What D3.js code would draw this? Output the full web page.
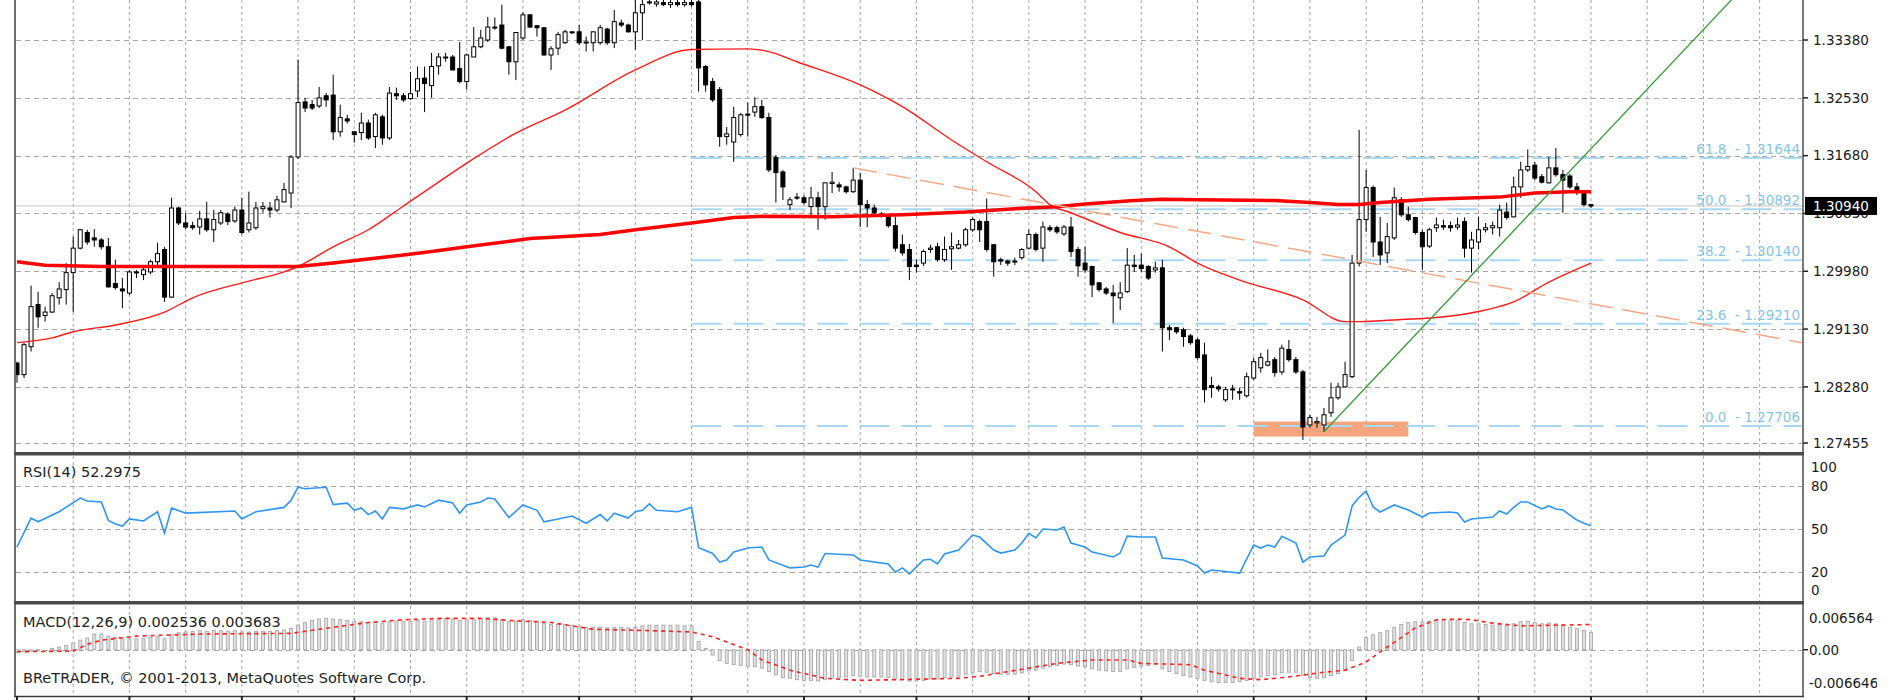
<!DOCTYPE html>
<html>
<head>
<meta charset="utf-8">
<style>
  html, body { margin: 0; padding: 0; background: #fff; }
  svg { display: block; font-family: "DejaVu Sans", sans-serif; }
</style>
<script src="https://cdn.jsdelivr.net/npm/d3@7"></script>
</head>
<body>
<svg id="chart" width="1900" height="700"></svg>
<script>
// daily candles, index 0..224
var opens = [1.2863,1.2846,1.2887,1.2949,1.2933,1.2938,1.2959,1.2971,1.2996,1.3032,
  1.3055,1.3047,1.3044,1.3034,1.2980,1.2972,1.2966,1.2997,1.2993,1.2997,
  1.3012,1.3030,1.2960,1.3091,1.3069,1.3065,1.3063,1.3075,1.3059,1.3069,
  1.3082,1.3072,1.3088,1.3059,1.3062,1.3090,1.3091,1.3088,1.3100,1.3113,
  1.3166,1.3247,1.3243,1.3241,1.3256,1.3257,1.3203,1.3222,1.3203,1.3202,
  1.3216,1.3196,1.3225,1.3194,1.3259,1.3256,1.3252,1.3263,1.3282,1.3271,
  1.3300,1.3313,1.3313,1.3296,1.3277,1.3313,1.3328,1.3338,1.3357,1.3360,
  1.3328,1.3306,1.3341,1.3375,1.3359,1.3356,1.3316,1.3326,1.3334,1.3350,
  1.3350,1.3335,1.3334,1.3334,1.3354,1.3334,1.3363,1.3360,1.3350,1.3378,
  1.3393,1.3391,1.3393,1.3390,1.3393,1.3390,1.3393,1.3394,1.3299,1.3277,
  1.3265,1.3196,1.3188,1.3199,1.3229,1.3232,1.3240,1.3224,1.3165,1.3144,
  1.3096,1.3107,1.3106,1.3093,1.3106,1.3093,1.3127,1.3125,1.3122,1.3115,
  1.3132,1.3096,1.3091,1.3082,1.3080,1.3065,1.3037,1.3030,1.3007,1.3010,
  1.3030,1.3034,1.3015,1.3031,1.3032,1.3037,1.3059,1.3071,1.3071,1.3037,
  1.3015,1.3013,1.3012,1.3018,1.3032,1.3052,1.3032,1.3062,1.3062,1.3053,
  1.3063,1.3030,1.3010,1.3005,1.2981,1.2972,1.2966,1.2959,1.2968,1.3007,
  1.3007,1.3005,1.3000,1.3003,1.2915,1.2915,1.2912,1.2903,1.2897,1.2875,
  1.2830,1.2828,1.2809,1.2825,1.2821,1.2815,1.2841,1.2856,1.2860,1.2868,
  1.2850,1.2883,1.2868,1.2850,1.2772,1.2775,1.2772,1.2790,1.2812,1.2828,
  1.2843,1.3010,1.3074,1.3121,1.3041,1.3025,1.3047,1.3103,1.3081,1.3077,
  1.3055,1.3035,1.3062,1.3065,1.3065,1.3063,1.3071,1.3032,1.3041,1.3059,
  1.3062,1.3062,1.3085,1.3078,1.3122,1.3147,1.3154,1.3137,1.3128,1.3150,
  1.3140,1.3138,1.3122,1.3112,1.3096]
var highs = [1.2865,1.2893,1.2977,1.2968,1.2946,1.2966,1.2982,1.3010,1.3049,1.3060,
  1.3059,1.3060,1.3047,1.3047,1.3015,1.2988,1.3000,1.3000,1.3005,1.3015,
  1.3040,1.3034,1.3106,1.3093,1.3084,1.3071,1.3087,1.3100,1.3088,1.3088,
  1.3085,1.3093,1.3106,1.3115,1.3100,1.3100,1.3100,1.3109,1.3128,1.3169,
  1.3309,1.3253,1.3250,1.3269,1.3260,1.3287,1.3243,1.3228,1.3204,1.3231,
  1.3221,1.3231,1.3228,1.3269,1.3268,1.3260,1.3291,1.3299,1.3299,1.3319,
  1.3319,1.3319,1.3316,1.3335,1.3318,1.3357,1.3353,1.3372,1.3371,1.3390,
  1.3329,1.3349,1.3379,1.3376,1.3360,1.3357,1.3329,1.3350,1.3353,1.3351,
  1.3360,1.3343,1.3351,1.3360,1.3356,1.3382,1.3368,1.3362,1.3397,1.3401,
  1.3400,1.3401,1.3400,1.3398,1.3397,1.3398,1.3397,1.3404,1.3301,1.3282,
  1.3269,1.3210,1.3240,1.3231,1.3246,1.3254,1.3250,1.3231,1.3169,1.3147,
  1.3107,1.3113,1.3110,1.3122,1.3115,1.3128,1.3144,1.3129,1.3124,1.3150,
  1.3143,1.3103,1.3096,1.3085,1.3081,1.3078,1.3052,1.3038,1.3015,1.3030,
  1.3037,1.3040,1.3049,1.3055,1.3044,1.3062,1.3077,1.3074,1.3105,1.3038,
  1.3018,1.3015,1.3018,1.3032,1.3059,1.3055,1.3071,1.3066,1.3065,1.3066,
  1.3078,1.3034,1.3034,1.3006,1.2982,1.2975,1.2978,1.2982,1.3032,1.3022,
  1.3024,1.3007,1.3012,1.3015,1.2919,1.2916,1.2915,1.2906,1.2900,1.2893,
  1.2843,1.2831,1.2828,1.2831,1.2827,1.2849,1.2871,1.2878,1.2883,1.2872,
  1.2890,1.2897,1.2872,1.2853,1.2787,1.2784,1.2797,1.2834,1.2834,1.2865,
  1.3022,1.3206,1.3147,1.3124,1.3078,1.3069,1.3121,1.3107,1.3093,1.3078,
  1.3059,1.3062,1.3077,1.3074,1.3071,1.3077,1.3077,1.3056,1.3078,1.3069,
  1.3071,1.3096,1.3099,1.3137,1.3159,1.3177,1.3159,1.3141,1.3166,1.3179,
  1.3147,1.3141,1.3128,1.3113,1.3097]
var lows = [1.2834,1.2841,1.2880,1.2915,1.2924,1.2937,1.2949,1.2949,1.2938,1.3030,
  1.3037,1.3034,1.3030,1.2974,1.2971,1.2944,1.2963,1.2988,1.2985,1.2994,
  1.3005,1.2953,1.2959,1.3066,1.3060,1.3059,1.3052,1.3056,1.3041,1.3066,
  1.3066,1.3069,1.3052,1.3055,1.3059,1.3084,1.3077,1.3085,1.3099,1.3091,
  1.3163,1.3232,1.3235,1.3238,1.3240,1.3191,1.3196,1.3215,1.3187,1.3191,
  1.3191,1.3179,1.3184,1.3191,1.3250,1.3247,1.3250,1.3254,1.3232,1.3253,
  1.3287,1.3306,1.3293,1.3274,1.3265,1.3313,1.3326,1.3335,1.3353,1.3324,
  1.3287,1.3279,1.3338,1.3356,1.3343,1.3315,1.3294,1.3316,1.3332,1.3347,
  1.3331,1.3321,1.3321,1.3331,1.3331,1.3326,1.3357,1.3349,1.3324,1.3338,
  1.3390,1.3387,1.3388,1.3385,1.3387,1.3387,1.3387,1.3262,1.3262,1.3247,
  1.3181,1.3184,1.3159,1.3196,1.3196,1.3225,1.3222,1.3144,1.3099,1.3103,
  1.3088,1.3103,1.3096,1.3078,1.3059,1.3074,1.3113,1.3115,1.3112,1.3113,
  1.3063,1.3063,1.3081,1.3077,1.3062,1.3027,1.3021,1.2985,1.2996,1.3006,
  1.3025,1.3012,1.3012,1.3000,1.3030,1.3034,1.3056,1.3041,1.3027,1.2990,
  1.3007,1.3006,1.3007,1.3015,1.3030,1.3027,1.3012,1.3056,1.3053,1.3050,
  1.3019,1.2990,1.2996,1.2960,1.2968,1.2963,1.2922,1.2941,1.2966,1.2997,
  1.2997,1.2985,1.2996,1.2880,1.2897,1.2906,1.2887,1.2890,1.2868,1.2805,
  1.2812,1.2821,1.2806,1.2809,1.2809,1.2812,1.2838,1.2849,1.2858,1.2843,
  1.2846,1.2865,1.2847,1.2750,1.2768,1.2768,1.2762,1.2784,1.2809,1.2827,
  1.2841,1.3005,1.3056,1.3019,1.3007,1.3010,1.3044,1.3078,1.3071,1.3052,
  1.3000,1.3032,1.3056,1.3059,1.3056,1.3059,1.3018,1.2996,1.3030,1.3055,
  1.3052,1.3049,1.3074,1.3077,1.3106,1.3144,1.3132,1.3127,1.3127,1.3137,
  1.3084,1.3119,1.3110,1.3093,1.3091]
var closes = [1.2846,1.2890,1.2946,1.2931,1.2938,1.2962,1.2972,1.2996,1.3032,1.3059,
  1.3041,1.3044,1.3034,1.2975,1.2974,1.2969,1.2997,1.2996,1.3000,1.3012,
  1.3024,1.2960,1.3091,1.3069,1.3063,1.3062,1.3075,1.3059,1.3074,1.3084,
  1.3071,1.3088,1.3055,1.3069,1.3091,1.3093,1.3088,1.3103,1.3118,1.3166,
  1.3246,1.3238,1.3238,1.3253,1.3250,1.3203,1.3224,1.3219,1.3199,1.3216,
  1.3194,1.3228,1.3194,1.3260,1.3256,1.3250,1.3259,1.3281,1.3274,1.3299,
  1.3313,1.3312,1.3294,1.3277,1.3316,1.3328,1.3341,1.3357,1.3356,1.3326,
  1.3306,1.3349,1.3375,1.3357,1.3356,1.3316,1.3325,1.3346,1.3350,1.3349,
  1.3334,1.3334,1.3350,1.3356,1.3334,1.3365,1.3360,1.3350,1.3378,1.3390,
  1.3394,1.3394,1.3390,1.3393,1.3390,1.3393,1.3390,1.3297,1.3272,1.3250,
  1.3196,1.3200,1.3224,1.3228,1.3228,1.3240,1.3224,1.3147,1.3143,1.3122,
  1.3103,1.3106,1.3099,1.3106,1.3093,1.3128,1.3129,1.3122,1.3115,1.3132,
  1.3096,1.3091,1.3084,1.3080,1.3065,1.3032,1.3025,1.3005,1.3005,1.3027,
  1.3032,1.3015,1.3030,1.3034,1.3037,1.3059,1.3074,1.3059,1.3030,1.3012,
  1.3013,1.3010,1.3013,1.3030,1.3052,1.3030,1.3063,1.3059,1.3056,1.3063,
  1.3027,1.3006,1.3000,1.2978,1.2971,1.2966,1.2962,1.2966,1.3007,1.3005,
  1.3002,1.2988,1.3003,1.2915,1.2912,1.2909,1.2902,1.2893,1.2871,1.2824,
  1.2827,1.2825,1.2824,1.2824,1.2819,1.2843,1.2865,1.2871,1.2865,1.2849,
  1.2885,1.2868,1.2850,1.2769,1.2783,1.2777,1.2787,1.2812,1.2828,1.2846,
  1.3010,1.3074,1.3121,1.3041,1.3022,1.3049,1.3106,1.3081,1.3074,1.3055,
  1.3034,1.3059,1.3066,1.3063,1.3062,1.3066,1.3032,1.3044,1.3059,1.3062,
  1.3065,1.3088,1.3077,1.3122,1.3147,1.3152,1.3135,1.3129,1.3150,1.3140,
  1.3132,1.3122,1.3115,1.3096,1.3094]

// moving averages (read at a few bars)
var maFastBars = [0,5,8,14,21,25,32,38,40,45,50,55,59,64,71,78,88,96,104,107,111,120,126,133,138,145,147,150,157,164,168,174,183,189,191,197,202,209,213,218,224]
var maFastValues = [1.2893,1.2900,1.2909,1.2919,1.2938,1.2959,1.2981,1.2997,1.3005,1.3034,1.3059,1.3094,1.3122,1.3157,1.3201,1.3235,1.3294,1.3324,1.3325,1.3321,1.3306,1.3272,1.3240,1.3191,1.3159,1.3115,1.3096,1.3084,1.3055,1.3034,1.3010,1.2985,1.2956,1.2924,1.2924,1.2927,1.2930,1.2941,1.2953,1.2982,1.3010]
var maSlowBars = [0,4,12,40,45,55,59,64,73,83,88,96,102,107,116,126,135,142,148,152,159,163,168,179,184,188,191,194,201,211,216,221,224]
var maSlowValues = [1.3012,1.3007,1.3005,1.3005,1.3010,1.3022,1.3027,1.3034,1.3046,1.3052,1.3059,1.3069,1.3077,1.3079,1.3078,1.3081,1.3085,1.3090,1.3093,1.3097,1.3102,1.3104,1.3103,1.3102,1.3099,1.3096,1.3096,1.3099,1.3104,1.3107,1.3113,1.3115,1.3115]

// RSI(14)
var rsiBars = [0,2,3,6,9,10,12,13,14,15,16,18,20,21,22,24,31,32,34,38,39,40,41,44,45,47,48,49,50,51,52,53,55,57,58,60,62,63,64,66,67,68,70,72,74,75,77,79,81,83,84,85,87,88,89,90,91,94,96,97,99,100,101,102,104,106,107,110,112,113,114,115,119,120,124,125,126,127,129,130,131,132,134,136,137,139,140,142,143,144,145,146,148,149,150,152,153,156,157,158,160,162,163,166,168,169,170,174,176,177,178,179,180,182,183,184,186,187,189,190,191,192,193,194,196,198,200,201,204,205,206,207,210,211,212,213,214,215,217,218,219,220,222,223,224]
var rsiValues = [37.5,57.6,55,62,71.5,69.4,68.8,56,53.5,52,57,55.6,62,47,64.6,61,62.5,57,62,65,70,79,78,79,67,68,63,64.6,60,62.5,57,65,64,66.7,65.3,70,68,61,66.7,68.8,71.5,70.8,58,66.7,63,55,57,59,54,60,55.6,61,57.6,62,63,67.4,63,62,65,37,33,27,28.5,34,36.8,37.5,28.5,23,23.6,25,23.6,33,32,28.5,25.7,20,23,18.8,28.5,29,25.7,32.6,35.4,45.8,44.4,35.4,33.3,35.4,40.3,47,43.8,50,49.3,51.4,40.3,37.5,34,30.6,33.3,45,44.4,44.4,29.9,28.5,24.3,19.4,21.5,19.4,38.9,36.8,38.9,37.5,45,40.3,27,30.6,31.3,38.9,45.8,66,72,76.4,65.3,61.8,66.7,63.2,58.3,61.1,61.8,61.1,54.9,56.9,58.3,62.5,60.4,65,68.8,68.8,63.9,66,63.9,63.2,56.2,54,52.3]

// MACD(12,26,9): main per bar, signal read at a few bars
var macdMain = [-0.0004,-0.0003,-0.0002,-0.0001,0.0000,0.0002,0.0004,0.0006,0.0010,0.0014,
  0.0017,0.0023,0.0023,0.0020,0.0018,0.0016,0.0016,0.0016,0.0017,0.0018,
  0.0019,0.0016,0.0022,0.0025,0.0026,0.0027,0.0028,0.0027,0.0028,0.0028,
  0.0027,0.0028,0.0026,0.0026,0.0027,0.0027,0.0027,0.0028,0.0029,0.0031,
  0.0036,0.0040,0.0043,0.0045,0.0046,0.0045,0.0044,0.0043,0.0041,0.0041,
  0.0040,0.0040,0.0039,0.0041,0.0042,0.0042,0.0042,0.0043,0.0042,0.0044,
  0.0045,0.0046,0.0045,0.0043,0.0044,0.0045,0.0046,0.0047,0.0047,0.0044,
  0.0041,0.0042,0.0044,0.0043,0.0042,0.0039,0.0037,0.0037,0.0037,0.0036,
  0.0034,0.0033,0.0033,0.0033,0.0032,0.0033,0.0033,0.0032,0.0033,0.0035,
  0.0036,0.0036,0.0036,0.0036,0.0036,0.0035,0.0035,0.0012,0.0002,-0.0008,
  -0.0016,-0.0020,-0.0022,-0.0023,-0.0024,-0.0025,-0.0027,-0.0032,-0.0037,-0.0041,
  -0.0042,-0.0044,-0.0045,-0.0045,-0.0046,-0.0044,-0.0042,-0.0041,-0.0040,-0.0038,
  -0.0039,-0.0040,-0.0040,-0.0040,-0.0041,-0.0043,-0.0044,-0.0046,-0.0046,-0.0045,
  -0.0043,-0.0043,-0.0041,-0.0040,-0.0039,-0.0036,-0.0033,-0.0032,-0.0033,-0.0035,
  -0.0036,-0.0036,-0.0036,-0.0034,-0.0031,-0.0030,-0.0027,-0.0025,-0.0023,-0.0021,
  -0.0022,-0.0024,-0.0025,-0.0028,-0.0030,-0.0031,-0.0032,-0.0032,-0.0028,-0.0026,
  -0.0024,-0.0023,-0.0022,-0.0028,-0.0032,-0.0035,-0.0038,-0.0040,-0.0042,-0.0045,
  -0.0047,-0.0048,-0.0048,-0.0048,-0.0047,-0.0045,-0.0042,-0.0040,-0.0038,-0.0037,
  -0.0034,-0.0033,-0.0033,-0.0038,-0.0041,-0.0042,-0.0041,-0.0038,-0.0035,-0.0031,
  -0.0016,0.0004,0.0018,0.0022,0.0025,0.0028,0.0033,0.0037,0.0040,0.0041,
  0.0041,0.0042,0.0043,0.0043,0.0043,0.0043,0.0040,0.0038,0.0038,0.0037,
  0.0036,0.0037,0.0036,0.0038,0.0041,0.0042,0.0040,0.0038,0.0039,0.0038,
  0.0036,0.0033,0.0031,0.0028,0.0025]
var signalBars = [0,8,10,12,17,26,39,43,50,55,60,66,70,76,82,90,96,99,104,106,110,115,120,125,134,137,144,148,153,158,160,167,169,174,177,181,186,189,192,195,199,202,205,207,210,214,224]
var signalValues = [-0.0003,-0.0002,0.0008,0.0014,0.0020,0.0023,0.0024,0.0030,0.0040,0.0044,0.0046,0.0046,0.0043,0.0040,0.0030,0.0028,0.0026,0.0019,0.0000,-0.0015,-0.0030,-0.0042,-0.0045,-0.0044,-0.0042,-0.0039,-0.0027,-0.0020,-0.0015,-0.0015,-0.0020,-0.0022,-0.0030,-0.0042,-0.0044,-0.0040,-0.0033,-0.0030,-0.0018,0.0004,0.0032,0.0044,0.0045,0.0044,0.0039,0.0035,0.0037]

// axis ticks
var priceTicks = [1.3338, 1.3253, 1.3168, 1.3083, 1.2998, 1.2913, 1.2828, 1.27455]
var rsiTicks = [100, 80, 50, 20, 0]
var rsiGrid = [80, 50, 20]
var macdTicks = [0.006564, 0, -0.006646]
var macdTickLabels = ['0.006564', '0.00', '-0.006646']

// drawn objects
var fibLevels = [61.8, 50.0, 38.2, 23.6, 0.0]
var fibPrices = [1.31644, 1.30892, 1.30140, 1.29210, 1.27706]
var fibStartBar = 96
var lastPrice = 1.3094
var redTrend = [[119, 1.3150], [254, 1.2893]]
var greenTrend = [[186, 1.2762], [244, 1.3397]]
var boxBars = [176, 198]
var boxPrices = [1.2755, 1.2777]

var svg = d3.select('#chart')
var left = 16, axisX = 1803

var x = d3.scaleLinear().domain([0, 224]).range([17, 1591])
var y = d3.scaleLinear().domain([1.27455, 1.3338]).range([443, 40])
var yRsi = d3.scaleLinear().domain([0, 100]).range([601, 457])
var yMacd = d3.scaleLinear().domain([-0.006646, 0.006564]).range([695, 605])

var defs = svg.append('defs')
function clip(id, top, bottom) {
    defs.append('clipPath').attr('id', id).append('rect')
        .attr('x', left).attr('y', top).attr('width', axisX - left - 1).attr('height', bottom - top)
}
clip('clipMain', 0, 452)
clip('clipRsi', 456, 601)
clip('clipMacd', 605, 696)
defs.append('clipPath').attr('id', 'clipAxis').append('rect')
    .attr('x', axisX).attr('y', 0).attr('width', 74).attr('height', 700)

var gridColor = '#a6a6a6'

// vertical grid through all panels
svg.append('g').selectAll('line')
    .data(d3.range(8, 249, 8))
    .enter().append('line')
    .attr('x1', d => x(d)).attr('x2', d => x(d))
    .attr('y1', 0).attr('y2', 696)
    .attr('stroke', gridColor).attr('stroke-dasharray', '3,3')

svg.append('g').selectAll('line')
    .data(priceTicks)
    .enter().append('line')
    .attr('x1', left).attr('x2', axisX)
    .attr('y1', d => Math.round(y(d)) + 0.5).attr('y2', d => Math.round(y(d)) + 0.5)
    .attr('stroke', gridColor).attr('stroke-dasharray', '5,4')

svg.append('g').selectAll('line')
    .data(rsiGrid)
    .enter().append('line')
    .attr('x1', left).attr('x2', axisX)
    .attr('y1', d => Math.round(yRsi(d)) + 0.5).attr('y2', d => Math.round(yRsi(d)) + 0.5)
    .attr('stroke', gridColor).attr('stroke-dasharray', '5,4')

svg.append('line')
    .attr('x1', left).attr('x2', axisX)
    .attr('y1', Math.round(yMacd(0)) + 0.5).attr('y2', Math.round(yMacd(0)) + 0.5)
    .attr('stroke', gridColor).attr('stroke-dasharray', '5,4')

// ---- main panel
var main = svg.append('g').attr('clip-path', 'url(#clipMain)')

main.append('rect')
    .attr('x', x(boxBars[0])).attr('width', x(boxBars[1]) - x(boxBars[0]))
    .attr('y', y(boxPrices[1])).attr('height', y(boxPrices[0]) - y(boxPrices[1]))
    .attr('fill', '#f5a47e')

main.append('g').selectAll('line')
    .data(fibPrices)
    .enter().append('line')
    .attr('x1', x(fibStartBar)).attr('x2', axisX)
    .attr('y1', d => y(d)).attr('y2', d => y(d))
    .attr('stroke', '#a9d8f2').attr('stroke-width', 2)
    .attr('stroke-dasharray', '30,12')

main.append('line')
    .attr('x1', left).attr('x2', axisX)
    .attr('y1', y(lastPrice)).attr('y2', y(lastPrice))
    .attr('stroke', '#c4c4c4').attr('stroke-width', 1)

var candles = main.append('g').selectAll('g')
    .data(d3.range(closes.length))
    .enter().append('g')

candles.append('line')
    .attr('x1', i => x(i)).attr('x2', i => x(i))
    .attr('y1', i => y(highs[i])).attr('y2', i => y(lows[i]))
    .attr('stroke', '#000').attr('stroke-width', 1)

candles.append('rect')
    .attr('x', i => x(i) - 2)
    .attr('width', 4)
    .attr('y', i => y(Math.max(opens[i], closes[i])))
    .attr('height', i => Math.max(1, Math.abs(y(opens[i]) - y(closes[i]))))
    .attr('fill', i => closes[i] >= opens[i] ? '#fff' : '#000')
    .attr('stroke', '#000').attr('stroke-width', 1)

var line = d3.line().x(d => x(d[0])).y(d => y(d[1]))

main.append('path')
    .attr('d', line.curve(d3.curveMonotoneX)(d3.zip(maFastBars, maFastValues)))
    .attr('fill', 'none').attr('stroke', '#ff1a1a').attr('stroke-width', 1.4)

main.append('path')
    .attr('d', line.curve(d3.curveLinear)(d3.zip(maSlowBars, maSlowValues)))
    .attr('fill', 'none').attr('stroke', '#ff0000').attr('stroke-width', 3.5)

main.append('path')
    .attr('d', line(redTrend))
    .attr('fill', 'none').attr('stroke', '#f8a886').attr('stroke-width', 1.5)
    .attr('stroke-dasharray', '24,10')

main.append('path')
    .attr('d', line(greenTrend))
    .attr('fill', 'none').attr('stroke', '#3d9e3d').attr('stroke-width', 1.4)

main.append('g').selectAll('text')
    .data(fibPrices)
    .enter().append('text')
    .attr('x', 1800).attr('y', d => y(d) - 4)
    .attr('text-anchor', 'end')
    .attr('font-size', '13.5px')
    .attr('fill', '#86c5e8')
    .style('white-space', 'pre')
    .text((d, i) => fibLevels[i].toFixed(1) + '  - ' + d.toFixed(5))

// ---- RSI panel
svg.append('g').attr('clip-path', 'url(#clipRsi)')
    .append('path')
    .attr('d', d3.line().x(d => x(d[0])).y(d => yRsi(d[1]))(d3.zip(rsiBars, rsiValues)))
    .attr('fill', 'none').attr('stroke', '#2f95f5').attr('stroke-width', 1.6)

// ---- MACD panel
var macd = svg.append('g').attr('clip-path', 'url(#clipMacd)')
macd.append('g').selectAll('rect')
    .data(macdMain)
    .enter().append('rect')
    .attr('x', (d, i) => x(i) - 1.5)
    .attr('width', 3)
    .attr('y', d => Math.min(yMacd(d), yMacd(0)))
    .attr('height', d => Math.abs(yMacd(d) - yMacd(0)))
    .attr('fill', '#e2e2e2').attr('stroke', '#a8a8a8').attr('stroke-width', 0.9)

macd.append('path')
    .attr('d', d3.line().x(d => x(d[0])).y(d => yMacd(d[1]))(d3.zip(signalBars, signalValues)))
    .attr('fill', 'none').attr('stroke', '#ff2020').attr('stroke-width', 1.6)
    .attr('stroke-dasharray', '4,4')

// ---- frames
var frame = svg.append('g')
frame.append('line').attr('x1', 15).attr('x2', 15).attr('y1', 0).attr('y2', 697)
    .attr('stroke', '#6e6e6e').attr('stroke-width', 2)
frame.append('line').attr('x1', axisX).attr('x2', axisX).attr('y1', 0).attr('y2', 697)
    .attr('stroke', '#7a7a7a').attr('stroke-width', 2)
;[452, 601].forEach(function (t) {
    frame.append('rect').attr('x', 14).attr('y', t).attr('width', axisX - 13).attr('height', 3.5)
        .attr('fill', '#4a4a4a')
})
frame.append('line').attr('x1', 14).attr('x2', axisX + 1).attr('y1', 696.5).attr('y2', 696.5)
    .attr('stroke', '#3a3a3a').attr('stroke-width', 1.5)
frame.append('g').selectAll('line')
    .data(d3.range(0, 225, 16))
    .enter().append('line')
    .attr('x1', d => x(d)).attr('x2', d => x(d)).attr('y1', 696).attr('y2', 700)
    .attr('stroke', '#222').attr('stroke-width', 2)

// ---- right axis
var axis = svg.append('g').attr('clip-path', 'url(#clipAxis)')
    .attr('font-size', '13.5px').attr('fill', '#1a1a1a')

axis.selectAll('.pt').data(priceTicks).enter().append('line')
    .attr('x1', axisX).attr('x2', axisX + 5)
    .attr('y1', d => y(d)).attr('y2', d => y(d))
    .attr('stroke', '#222').attr('stroke-width', 1.5)
axis.selectAll('.pl').data(priceTicks).enter().append('text')
    .attr('x', 1813).attr('y', d => y(d)).attr('dy', '0.36em')
    .text(d => d.toFixed(5))

axis.append('rect').attr('x', 1805).attr('y', y(lastPrice) - 9).attr('width', 72).attr('height', 18)
    .attr('fill', '#000')
axis.append('text').attr('x', 1813).attr('y', y(lastPrice)).attr('dy', '0.36em')
    .attr('fill', '#fff').text(lastPrice.toFixed(5))

axis.selectAll('.rl').data(rsiTicks).enter().append('text')
    .attr('x', 1811).attr('y', d => Math.max(467, Math.min(590, yRsi(d)))).attr('dy', '0.36em')
    .text(d => d)

axis.selectAll('.ml').data(macdTicks).enter().append('text')
    .attr('x', 1809).attr('y', d => Math.max(618, Math.min(683, yMacd(d)))).attr('dy', '0.36em')
    .text((d, i) => macdTickLabels[i])
axis.append('line').attr('x1', axisX).attr('x2', axisX + 5)
    .attr('y1', yMacd(0)).attr('y2', yMacd(0)).attr('stroke', '#222').attr('stroke-width', 1.5)

// ---- panel captions
var captions = svg.append('g').attr('font-size', '14.5px').attr('fill', '#222')
captions.append('text').attr('x', 23).attr('y', 477).text('RSI(14) 52.2975')
captions.append('text').attr('x', 23).attr('y', 627).text('MACD(12,26,9) 0.002536 0.003683')
captions.append('text').attr('x', 23).attr('y', 683).text('BReTRADER, © 2001-2013, MetaQuotes Software Corp.')
</script>
</body>
</html>
